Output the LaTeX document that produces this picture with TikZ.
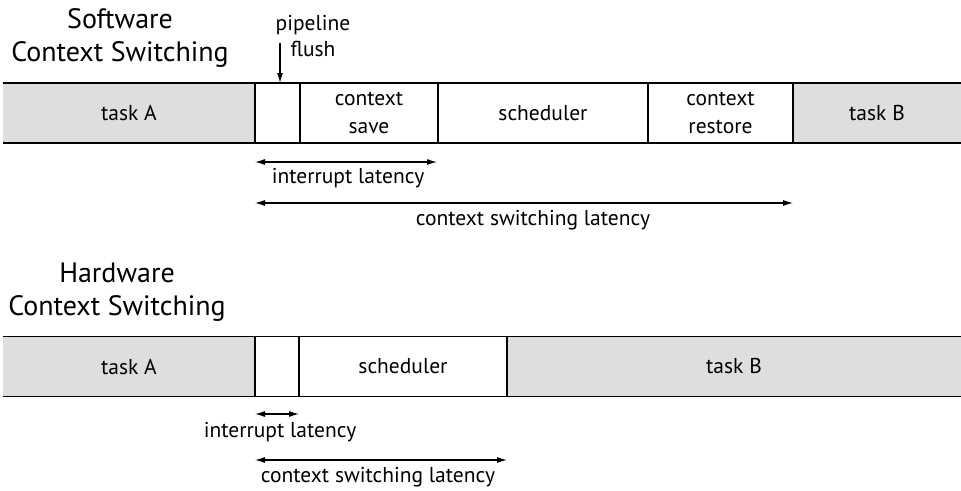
\documentclass[tikz,border=0pt]{standalone}
\usepackage{fontspec}
\setmainfont{PT Sans}
\usetikzlibrary{arrows.meta}
\begin{document}
\begin{tikzpicture}[x=1pt,y=-1pt,
  cell/.style={inner sep=0pt,outer sep=0pt,minimum height=60pt,align=center,font=\fontsize{21.5}{28}\selectfont},
  task/.style={cell,fill=black!13},
  free/.style={cell,fill=white},
  band/.style={line width=1.8pt},
  divider/.style={line width=1.2pt},
  tip/.style={Latex[length=10pt,width=6pt]},
  lat/.style={line width=1.1pt,{Latex[length=10pt,width=6pt]}-{Latex[length=10pt,width=6pt]}},
  lbl/.style={inner sep=0pt,font=\fontsize{21.5}{26}\selectfont,align=center},
  title/.style={inner sep=0pt,font=\fontsize{28}{33}\selectfont,align=center}]
\useasboundingbox (0,0) rectangle (961,490);
% Software band
\node[task,minimum width=252pt] (sA) at (129,113) {task A};
\node[free,minimum width=45pt] (spf) at (277.5,113) {};
\node[free,minimum width=138pt] (scs) at (369,113) {context\\save};
\node[free,minimum width=210pt] (ssch) at (543,113) {scheduler};
\node[free,minimum width=145pt] (scr) at (720.5,113) {context\\restore};
\node[task,minimum width=168pt] (sB) at (877,113) {task B};
\draw[band] (sA.north west) -- (sB.north east);
\draw[band] (sA.south west) -- (sB.south east);
\foreach \n in {sA,spf,scs,ssch,scr} \draw[divider] (\n.north east) -- (\n.south east);
\node[title] (stitle) at (120,38) {Software\\Context Switching};
\node[lbl] (pflabel) at (313,36) {pipeline\\flush};
\coordinate (pfstart) at (280,43);
\draw[line width=1.1pt,-{Latex[length=10pt,width=6pt]}] (pfstart) -- (pfstart |- sA.north);
\coordinate (si1) at (255,162);
\coordinate (si2) at (437,162);
\draw[lat] (si1) -- (si2);
\node[lbl] (silbl) at (348,178) {interrupt latency};
\coordinate (sc1) at (255,203);
\coordinate (sc2) at (793,203);
\draw[lat] (sc1) -- (sc2);
\node[lbl] (sclbl) at (533,220) {context switching latency};
% Hardware band
\node[task,minimum width=252pt] (hA) at (129,366.5) {task A};
\node[free,minimum width=44pt] (hpf) at (277,366.5) {};
\node[free,minimum width=208pt] (hsch) at (403,366.5) {scheduler};
\node[task,minimum width=454pt] (hB) at (734,366.5) {task B};
\draw[band] (hA.north west) -- (hB.north east);
\draw[band] (hA.south west) -- (hB.south east);
\foreach \n in {hA,hpf,hsch} \draw[divider] (\n.north east) -- (\n.south east);
\node[title] (htitle) at (117,292) {Hardware\\Context Switching};
\coordinate (hi1) at (255,414);
\coordinate (hi2) at (299,414);
\draw[lat] (hi1) -- (hi2);
\node[lbl] (hilbl) at (280,432) {interrupt latency};
\coordinate (hc1) at (255,460);
\coordinate (hc2) at (507,460);
\draw[lat] (hc1) -- (hc2);
\node[lbl] (hclbl) at (378,477) {context switching latency};
\end{tikzpicture}
\end{document}
